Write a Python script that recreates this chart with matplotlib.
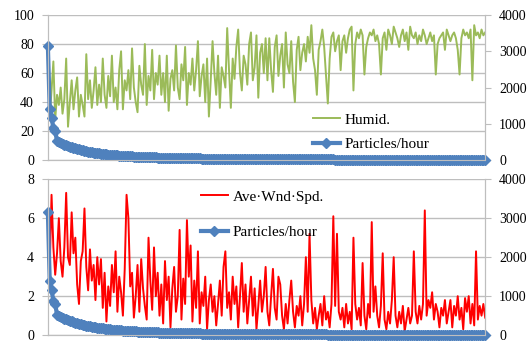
import numpy as np
from matplotlib import pyplot as plt
from matplotlib.ticker import MultipleLocator

#%% # Data

humid = [40, 30, 48, 68, 28, 45, 38, 50, 32, 42, 70, 23, 40, 55, 35, 48, 57, 30, 45, 38,
         30, 73, 42, 55, 36, 48, 64, 38, 52, 40, 70, 45, 36, 58, 44, 72, 40, 50, 35, 62,
         75, 35, 55, 48, 62, 42, 77, 50, 40, 33, 65, 52, 45, 80, 38, 58, 48, 76, 42, 60,
         52, 72, 45, 60, 40, 72, 34, 56, 62, 48, 79, 50, 42, 66, 55, 78, 38, 60, 52, 70,
         48, 62, 82, 44, 58, 66, 40, 70, 30, 55, 82, 60, 45, 72, 36, 64, 58, 50, 91, 62,
         36, 70, 56, 78, 90, 60, 48, 72, 66, 52, 80, 88, 55, 64, 86, 43, 74, 80, 60, 84,
         55, 84, 62, 47, 78, 86, 58, 72, 80, 50, 88, 66, 60, 82, 54, 40, 76, 85, 62, 74,
         80, 68, 85, 74, 93, 70, 62, 45, 76, 82, 90, 78, 58, 39, 70, 85, 88, 75, 82, 86,
         62, 82, 86, 74, 84, 90, 92, 48, 80, 88, 84, 90, 86, 59, 78, 84, 88, 86, 90, 82,
         86, 80, 59, 84, 88, 76, 90, 86, 80, 92, 88, 84, 78, 86, 90, 82, 88, 76, 92, 86,
         84, 88, 80, 86, 82, 90, 86, 80, 84, 88, 82, 86, 59, 80, 84, 86, 88, 76, 90, 86,
         82, 86, 88, 84, 76, 59, 84, 90, 86, 88, 84, 90, 55, 93, 86, 88, 84, 90, 86, 88]

wind = [4.7, 3.4, 7.2, 4.5, 3.1, 4.2, 6.0, 3.8, 3.0, 4.5, 7.3, 4.0, 3.6, 6.3, 4.2, 5.0, 2.6, 1.6, 3.8, 4.3,
        6.5, 3.5, 2.3, 4.4, 2.8, 3.6, 1.8, 4.0, 2.6, 3.9, 1.4, 3.2, 0.7, 2.5, 1.5, 3.6, 2.2, 4.3, 1.2, 3.0,
        2.2, 1.0, 3.4, 7.2, 6.0, 2.5, 3.2, 0.9, 2.0, 3.6, 1.2, 3.9, 2.4, 1.5, 0.8, 5.0, 2.8, 1.3, 4.5, 2.0,
        3.2, 1.0, 2.6, 0.6, 3.8, 1.8, 3.0, 0.4, 2.4, 3.5, 1.2, 2.0, 5.4, 0.8, 2.9, 1.6, 5.9, 3.0, 4.6, 0.7,
        2.8, 1.4, 4.3, 0.6, 2.2, 1.5, 3.0, 0.3, 1.8, 2.6, 1.2, 2.0, 0.5, 1.6, 2.8, 1.0, 3.5, 4.3, 1.4, 2.2,
        0.8, 3.0, 1.6, 2.5, 0.4, 2.0, 3.7, 1.2, 2.6, 0.6, 1.8, 3.0, 1.0, 2.4, 0.3, 1.5, 2.8, 1.2, 2.0, 3.5,
        1.2, 0.5, 2.0, 3.4, 1.4, 0.8, 3.0, 2.6, 1.0, 0.3, 1.6, 0.6, 1.8, 2.8, 1.2, 0.4, 1.5, 1.0, 2.0, 0.5,
        1.6, 4.0, 1.2, 5.2, 1.8, 0.6, 1.4, 0.3, 1.0, 1.6, 0.5, 2.0, 0.8, 1.2, 0.4, 1.6, 6.1, 1.5, 5.2, 1.2,
        0.8, 1.4, 0.4, 1.6, 0.6, 1.2, 0.3, 5.0, 1.6, 0.8, 1.4, 0.5, 3.7, 1.0, 0.3, 1.6, 0.9, 5.8, 1.2, 2.5,
        1.0, 0.4, 1.5, 4.2, 0.8, 0.3, 1.2, 0.6, 1.8, 4.0, 1.0, 0.4, 1.2, 0.6, 1.5, 0.2, 0.8, 1.4, 0.6, 1.0,
        4.3, 1.2, 0.6, 1.5, 0.8, 1.6, 6.4, 1.0, 1.8, 1.4, 2.2, 0.8, 1.6, 1.2, 0.4, 1.4, 1.0, 1.8, 0.6, 1.2,
        1.8, 0.4, 1.5, 1.0, 2.0, 0.8, 1.4, 0.3, 1.9, 1.2, 2.0, 0.6, 1.6, 0.5, 4.3, 0.8, 1.5, 1.0, 1.6, 0.9]

particles = [3150, 1400, 1160, 880, 800, 520, 490, 465, 445, 425,
             405, 385, 368, 352, 336, 320, 306, 293, 280, 268,
             257, 246, 236, 226, 217, 208, 200, 192, 185, 178,
             171, 165, 159, 153, 148, 143, 138, 133, 129, 125,
             121, 117, 113, 110, 107, 104, 101, 98, 95, 92,
             90, 88, 86, 84, 82, 80, 78, 76, 74, 72,
             70, 68, 66, 64, 62, 61, 60, 59, 58, 57,
             56, 55, 54, 53, 52, 51, 50, 49, 48, 47,
             46, 45, 44, 43, 42, 42, 41, 41, 40, 40,
             39, 39, 38, 38, 37, 37, 36, 36, 35, 35,
             34, 34, 33, 33, 32, 32, 31, 31, 30, 30, 30, 29, 29, 29, 28, 28, 28, 27, 27, 27,
             26, 26, 26, 25, 25, 25, 24, 24, 24, 23, 23, 23, 22, 22, 22, 21, 21, 21, 20, 20,
             20, 20, 19, 19, 19, 18, 18, 18, 18, 17, 17, 17, 17, 16, 16, 16, 16, 15, 15, 15,
             15, 14, 14, 14, 14, 13, 13, 13, 13, 12, 12, 12, 12, 12, 11, 11, 11, 11, 11, 10,
             10, 10, 10, 10, 9, 9, 9, 9, 9, 9, 8, 8, 8, 8, 8, 8, 8, 7, 7, 7,
             7, 7, 7, 7, 6, 6, 6, 6, 6, 6, 6, 6, 5, 5, 5, 5, 5, 5, 5, 5,
             5, 5, 4, 4, 4, 4, 4, 4, 4, 4, 3, 3, 3, 3, 3, 3, 3, 2, 2, 1]

x = np.arange(len(particles))

#%% # Plot

plt.rcParams['font.family'] = ['Liberation Serif', 'DejaVu Serif']
plt.rcParams['font.size'] = 10

green = '#9BBB59'
blue = '#4F81BD'
red = '#FF0000'
gridc = '#BEBEBE'

fig = plt.figure(figsize=(5.32, 3.42), dpi=100)
ax_top = fig.add_axes([0.090, 0.532, 0.822, 0.424])
ax_bot = fig.add_axes([0.090, 0.020, 0.822, 0.456])


def style(ax, ax2, ymax, ystep):
    ax.set_xlim(0, len(particles) - 1)
    ax.set_ylim(0, ymax)
    ax.yaxis.set_major_locator(MultipleLocator(ystep))
    ax2.set_ylim(0, 4000)
    ax2.yaxis.set_major_locator(MultipleLocator(1000))
    ax.grid(axis='y', color=gridc, lw=1.0)
    ax.set_axisbelow(True)
    ax.set_xticks([])
    for a in (ax, ax2):
        a.spines['top'].set_visible(False)
        for s in ('left', 'right', 'bottom'):
            a.spines[s].set_color(gridc)
        a.tick_params(axis='y', length=4, color=gridc, labelsize=10, pad=6)


ax = ax_top
ax.plot(x, humid, color=green, lw=1.4, label='Humid.')
ax2 = ax.twinx()
ax2.plot(x, particles, color=blue, lw=3, marker='D', ms=5.5, label='Particles/hour', clip_on=False)
style(ax, ax2, 100, 20)
h1, l1 = ax.get_legend_handles_labels()
h2, l2 = ax2.get_legend_handles_labels()
ax2.legend(h1 + h2, l1 + l2, loc='upper left', bbox_to_anchor=(0.574, 0.42), frameon=False,
           fontsize=11, handlelength=1.8, handletextpad=0.3, labelspacing=0.7)

ax = ax_bot
ax.plot(x, wind, color=red, lw=1.4, label='Ave·Wnd·Spd.')
ax2 = ax.twinx()
ax2.plot(x, particles, color=blue, lw=3, marker='D', ms=5.5, label='Particles/hour', clip_on=False)
style(ax, ax2, 8, 2)
h1, l1 = ax.get_legend_handles_labels()
h2, l2 = ax2.get_legend_handles_labels()
ax2.legend(h1 + h2, l1 + l2, loc='upper left', bbox_to_anchor=(0.318, 1.02), frameon=False,
           fontsize=11, handlelength=1.8, handletextpad=0.3, labelspacing=1.45)

plt.savefig("out.png", dpi=100)
